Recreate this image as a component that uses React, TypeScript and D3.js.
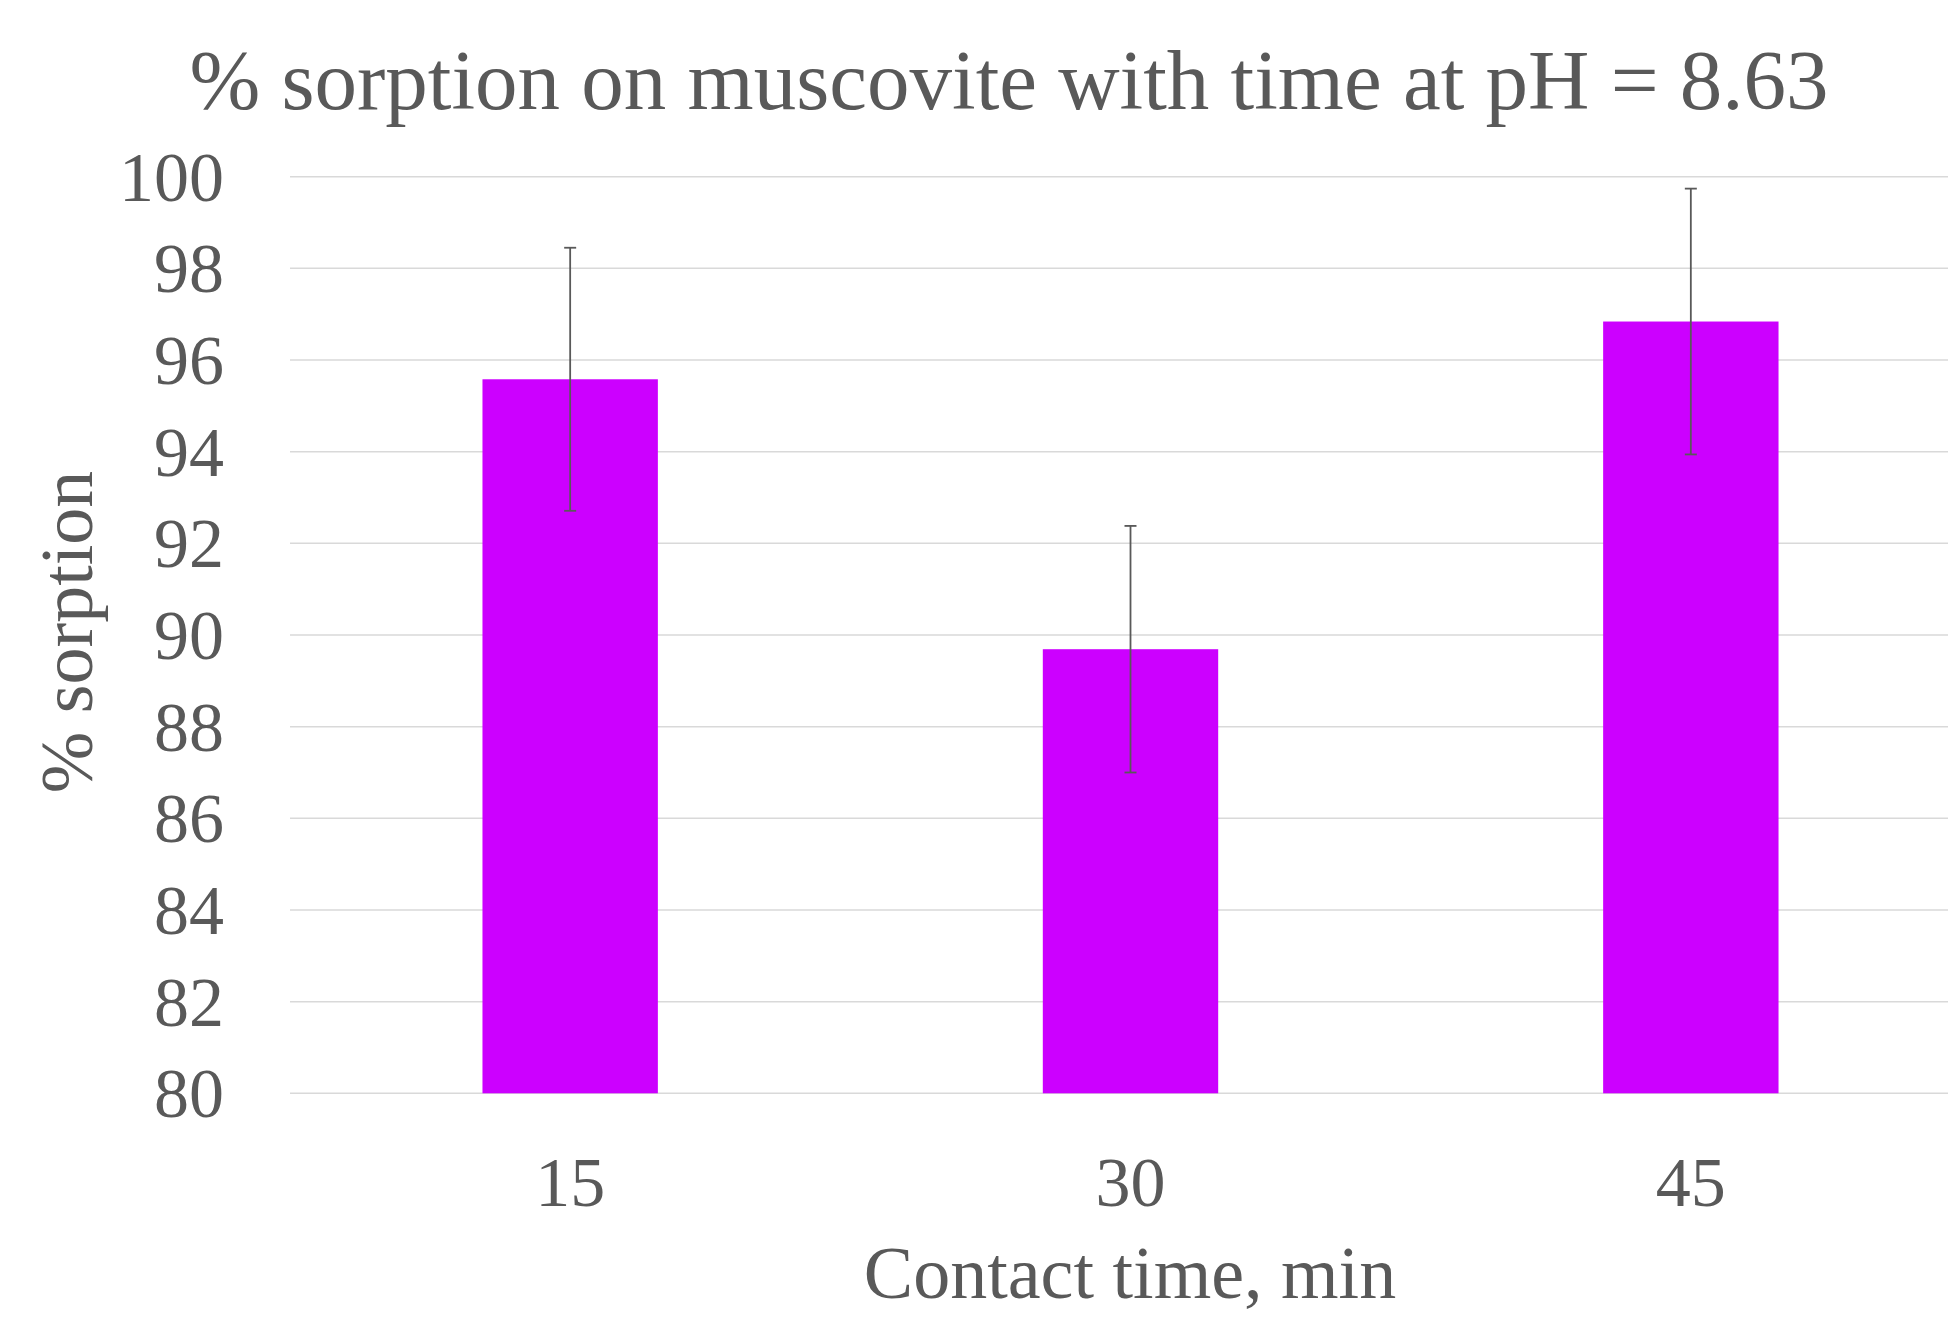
import React, { useEffect, useRef } from "react";
import * as d3 from "d3";

const categories = ["15", "30", "45"];
const sorption = [95.58, 89.69, 96.84];
const errors = [2.87, 2.69, 2.9];
const yTicks = [80, 82, 84, 86, 88, 90, 92, 94, 96, 98, 100];

const App = ({ width = 1948, height = 1318 }) => {
  const chart = useRef<SVGSVGElement>(null);

  useEffect(() => {
    const svg = d3.select(chart.current);
    svg.selectAll("*").remove();

    const font = "'Liberation Serif', 'Times New Roman', serif";
    const textColor = "#595959";
    const left = 290;
    const top = 176.7;
    const bottom = 1093.3;
    // plot area runs past the right edge of the picture
    const right = 1971;

    const y = d3.scaleLinear().domain([80, 100]).range([bottom, top]);
    const x = d3
      .scaleBand()
      .domain(categories)
      .range([left, right])
      .paddingInner(0.687)
      .paddingOuter(0.3435);

    const data = categories.map((c, i) => ({ c, v: sorption[i], e: errors[i] }));

    // gridlines
    svg
      .append("g")
      .selectAll("line")
      .data(yTicks)
      .enter()
      .append("line")
      .attr("x1", left)
      .attr("x2", width)
      .attr("y1", (d) => y(d))
      .attr("y2", (d) => y(d))
      .attr("stroke", "#d9d9d9")
      .attr("stroke-width", 1.5);

    // y tick labels
    svg
      .append("g")
      .selectAll("text")
      .data(yTicks)
      .enter()
      .append("text")
      .attr("x", 224)
      .attr("y", (d) => y(d) + 24)
      .attr("text-anchor", "end")
      .style("font-family", font)
      .style("font-size", "70px")
      .style("fill", textColor)
      .text((d) => d);

    // bars
    svg
      .append("g")
      .selectAll("rect")
      .data(data)
      .enter()
      .append("rect")
      .attr("x", (d) => x(d.c))
      .attr("y", (d) => y(d.v))
      .attr("width", x.bandwidth())
      .attr("height", (d) => bottom - y(d.v))
      .style("fill", "#cc00ff");

    // error bars
    const eb = svg.append("g").attr("stroke", "#595959").attr("stroke-width", 1.8);
    data.forEach((d) => {
      const cx = x(d.c) + x.bandwidth() / 2;
      eb.append("line")
        .attr("x1", cx)
        .attr("x2", cx)
        .attr("y1", y(d.v + d.e))
        .attr("y2", y(d.v - d.e));
      [d.v + d.e, d.v - d.e].forEach((v) => {
        eb.append("line")
          .attr("x1", cx - 6)
          .attr("x2", cx + 6)
          .attr("y1", y(v))
          .attr("y2", y(v));
      });
    });

    // x tick labels
    svg
      .append("g")
      .selectAll("text")
      .data(categories)
      .enter()
      .append("text")
      .attr("x", (d) => x(d) + x.bandwidth() / 2)
      .attr("y", 1206)
      .attr("text-anchor", "middle")
      .style("font-family", font)
      .style("font-size", "70px")
      .style("fill", textColor)
      .text((d) => d);

    // title
    svg
      .append("text")
      .attr("x", 1009)
      .attr("y", 109)
      .attr("text-anchor", "middle")
      .style("font-family", font)
      .style("font-size", "85px")
      .style("fill", textColor)
      .text("% sorption on muscovite with time at pH = 8.63");

    // axis titles
    svg
      .append("text")
      .attr("x", 1130)
      .attr("y", 1298)
      .attr("text-anchor", "middle")
      .style("font-family", font)
      .style("font-size", "74px")
      .style("fill", textColor)
      .text("Contact time, min");

    svg
      .append("text")
      .attr("transform", "translate(92,632) rotate(-90)")
      .attr("text-anchor", "middle")
      .style("font-family", font)
      .style("font-size", "74px")
      .style("fill", textColor)
      .text("% sorption");
  }, [width, height]);

  return (
    <div style={{ position: "absolute", left: 0, top: 0 }}>
      <svg ref={chart} width={width} height={height} style={{ display: "block", background: "#fff" }}></svg>
    </div>
  );
};

export default App;
